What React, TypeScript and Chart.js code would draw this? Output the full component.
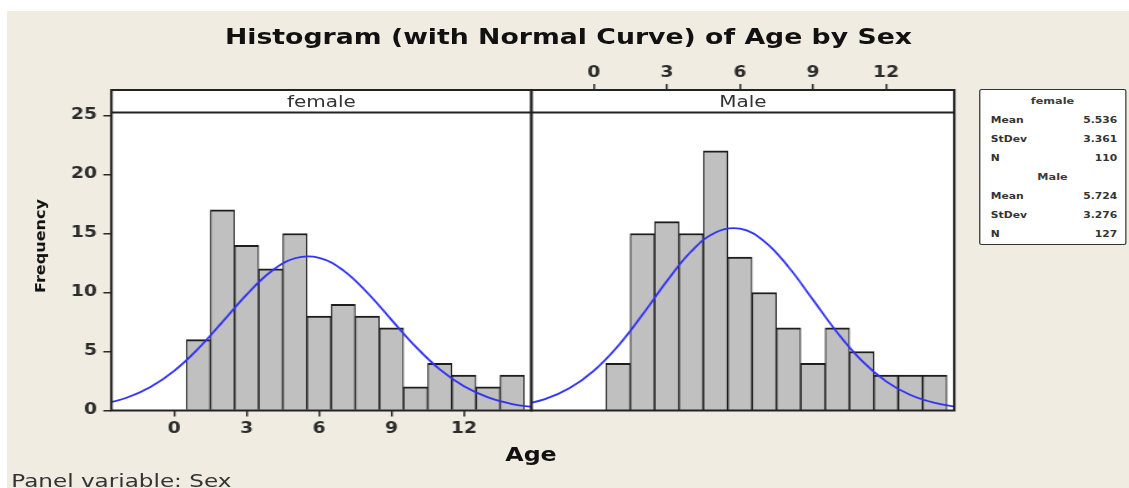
import { useEffect, useRef } from 'react';
import { Chart, registerables } from 'chart.js';

Chart.register(...registerables);

// ---------------- data ----------------
const ageBins = [1, 2, 3, 4, 5, 6, 7, 8, 9, 10, 11, 12, 13, 14];
const femaleCounts = [6, 17, 14, 12, 15, 8, 9, 8, 7, 2, 4, 3, 2, 3];
const maleCounts = [4, 15, 16, 15, 22, 13, 10, 7, 4, 7, 5, 3, 3, 3];
const curveAges = [-3, -2, -1, 0, 1, 2, 3, 4, 5, 6, 7, 8, 9, 10, 11, 12, 13, 14, 15];
const femaleCurve = [0.52, 1.06, 1.97, 3.36, 5.25, 7.51, 9.82, 11.76, 12.9, 12.94, 11.88, 9.98, 7.68, 5.41, 3.48, 2.05, 1.11, 0.55, 0.25];
const maleCurve = [0.45, 0.96, 1.88, 3.36, 5.47, 8.11, 10.95, 13.47, 15.09, 15.41, 14.34, 12.15, 9.38, 6.6, 4.23, 2.47, 1.31, 0.64, 0.28];
const xTicks = [0, 3, 6, 9, 12];
const yTicks = [0, 5, 10, 15, 20, 25];
const panelNames = ['female', 'Male'];
const statNames = ['Mean', 'StDev', 'N'];
const femaleStats = ['5.536', '3.361', '110'];
const maleStats = ['5.724', '3.276', '127'];

// ---------------- layout (unscaled units; container stretched horizontally) ----------------
const W = 904;
const H = 488;
const SX = 1129 / W;
const PANEL_TOP = 90;
const PANEL_BOTTOM = 410.5;
const STRIP_Y = 112.5;
const F_LEFT = 89.2;
const DIV_X = 425.6;
const M_RIGHT = 764.1;
const AXIS_H = 40;
const Y_MAX = 27.16;
const BEIGE = '#f0ece2';
const CURVE = 'rgb(50,50,245)';

const tickFont = { family: 'DejaVu Sans', size: 15, weight: 'bold' as const };

const framePlugin = {
  id: 'panelFrame',
  beforeDraw(chart: any) {
    const { ctx, chartArea: a } = chart;
    ctx.save();
    ctx.fillStyle = '#ffffff';
    ctx.fillRect(a.left, a.top, a.right - a.left, a.bottom - a.top);
    ctx.restore();
  },
  afterDatasetsDraw(chart: any) {
    const { ctx, chartArea: a } = chart;
    ctx.save();
    ctx.strokeStyle = '#222';
    ctx.lineWidth = 2;
    ctx.beginPath();
    ctx.moveTo(a.left, STRIP_Y);
    ctx.lineTo(a.right, STRIP_Y);
    ctx.stroke();
    ctx.strokeRect(a.left, a.top, a.right - a.left, a.bottom - a.top);
    ctx.restore();
  },
};

function xScale(position: 'top' | 'bottom', min: number, max: number) {
  return {
    type: 'linear' as const,
    position,
    min,
    max,
    offset: false,
    afterBuildTicks: (s: any) => {
      s.ticks = xTicks.map((v) => ({ value: v }));
    },
    afterFit: (s: any) => {
      s.height = AXIS_H;
    },
    grid: { drawOnChartArea: false, drawTicks: true, tickLength: 6, color: '#2a2a2a', lineWidth: 1.5, offset: false },
    border: { display: false },
    ticks: { font: tickFont, color: '#2b2b2b', padding: position === 'top' ? 2 : 3.5, autoSkip: false, maxRotation: 0 },
  };
}

function yScale(display: boolean) {
  return {
    type: 'linear' as const,
    display,
    min: 0,
    max: Y_MAX,
    afterBuildTicks: (s: any) => {
      s.ticks = yTicks.map((v) => ({ value: v }));
    },
    afterFit: (s: any) => {
      s.width = display ? F_LEFT : 0;
    },
    grid: { drawOnChartArea: false, drawTicks: true, tickLength: 6.5, color: '#2a2a2a', lineWidth: 1.5 },
    border: { display: false },
    ticks: { font: tickFont, color: '#2b2b2b', padding: 5 },
  };
}

function buildPanel(canvas: HTMLCanvasElement, isFemale: boolean) {
  const counts = isFemale ? femaleCounts : maleCounts;
  const curve = isFemale ? femaleCurve : maleCurve;
  return new Chart(canvas, {
    type: 'bar',
    data: {
      datasets: [
        {
          type: 'line',
          label: (isFemale ? panelNames[0] : panelNames[1]) + ' normal',
          data: curveAges.map((a, i) => ({ x: a, y: curve[i] })),
          borderColor: CURVE,
          borderWidth: 1.8,
          pointRadius: 0,
          tension: 0.4,
          fill: false,
          order: 1,
        } as any,
        {
          type: 'bar',
          label: isFemale ? panelNames[0] : panelNames[1],
          data: ageBins.map((a, i) => ({ x: a, y: counts[i] })),
          backgroundColor: '#c0c0c0',
          borderColor: '#1e1e1e',
          borderWidth: { top: 2, left: 1.1, right: 1.1, bottom: 0 },
          borderSkipped: 'start',
          categoryPercentage: 1,
          barPercentage: 1,
          order: 2,
        } as any,
      ],
    },
    options: {
      responsive: false,
      animation: false,
      devicePixelRatio: 1,
      events: [],
      layout: {
        padding: isFemale
          ? { left: 0, right: W - DIV_X, top: PANEL_TOP, bottom: H - PANEL_BOTTOM - AXIS_H }
          : { left: DIV_X, right: W - M_RIGHT, top: PANEL_TOP - AXIS_H, bottom: H - PANEL_BOTTOM },
      },
      scales: {
        x: isFemale ? xScale('bottom', -2.6, 14.8) : xScale('top', -2.55, 14.8),
        y: yScale(isFemale),
      } as any,
      plugins: {
        legend: { display: false },
        tooltip: { enabled: false },
      },
    },
    plugins: [framePlugin],
  });
}

const abs = (extra: any) => ({ position: 'absolute' as const, whiteSpace: 'nowrap' as const, lineHeight: 1, margin: 0, ...extra });

const LEG_L = 979 / SX;
const LEG_W = (1126 - 979) / SX;
const LEG_TOP = 89;
const LEG_H = 156;
const rowCenter = (i: number) => 100 + 19 * i;

export default function App() {
  const fRef = useRef<HTMLCanvasElement>(null);
  const mRef = useRef<HTMLCanvasElement>(null);

  useEffect(() => {
    const charts = [buildPanel(fRef.current!, true), buildPanel(mRef.current!, false)];
    return () => charts.forEach((c) => c.destroy());
  }, []);

  const headerFont = '700 9px "DejaVu Sans"';
  const rowFont = '700 8.6px "DejaVu Sans"';

  const legendRows: any[] = [];
  [femaleStats, maleStats].forEach((vals, g) => {
    const base = g * 4;
    legendRows.push(
      <div key={'h' + g} style={abs({ left: LEG_L + LEG_W / 2, top: rowCenter(base) - 4.4, transform: 'translateX(-50%)', font: headerFont, color: '#3a3a3a' })}>
        {panelNames[g]}
      </div>
    );
    statNames.forEach((n, k) => {
      legendRows.push(
        <div key={'n' + g + k} style={abs({ left: LEG_L + 9.5, top: rowCenter(base + 1 + k) - 4.2, font: rowFont, color: '#333' })}>
          {n}
        </div>
      );
      legendRows.push(
        <div key={'v' + g + k} style={abs({ left: LEG_L + LEG_W - 7, top: rowCenter(base + 1 + k) - 4.2, transform: 'translateX(-100%)', font: rowFont, color: '#333' })}>
          {vals[k]}
        </div>
      );
    });
  });

  return (
    <div style={{ position: 'absolute', left: 0, top: 0, width: 1129, height: 488, background: '#ffffff', overflow: 'hidden' }}>
      <div style={{ position: 'absolute', left: 7, top: 11, right: 0, bottom: 0, background: BEIGE }} />
      <div style={{ position: 'absolute', left: 0, top: 0, width: W, height: H, transform: `scaleX(${SX})`, transformOrigin: '0 0' }}>
        <canvas ref={fRef} width={W} height={H} style={{ position: 'absolute', left: 0, top: 0 }} />
        <canvas ref={mRef} width={W} height={H} style={{ position: 'absolute', left: 0, top: 0 }} />

        <div style={abs({ left: 568.5 / SX, top: 23.6, transform: 'translateX(-50%)', font: '700 21.4px "DejaVu Sans"', color: '#111' })}>
          Histogram (with Normal Curve) of Age by Sex
        </div>

        <div style={abs({ left: (F_LEFT + DIV_X) / 2, top: 92.3, transform: 'translateX(-50%)', font: '400 16px "DejaVu Sans"', color: '#333' })}>
          {panelNames[0]}
        </div>
        <div style={abs({ left: (DIV_X + M_RIGHT) / 2, top: 92.3, transform: 'translateX(-50%)', font: '400 16px "DejaVu Sans"', color: '#333' })}>
          {panelNames[1]}
        </div>

        <div style={abs({ left: 33.2, top: 245.5, transform: 'translate(-50%,-50%) rotate(-90deg) scaleX(1.46)', font: '700 11px "DejaVu Sans"', color: '#111' })}>
          Frequency
        </div>

        <div style={abs({ left: 531 / SX, top: 442.8, transform: 'translateX(-50%)', font: '700 19px "DejaVu Sans"', color: '#111' })}>
          Age
        </div>

        <div style={abs({ left: 9, top: 469.8, font: '400 18.5px "DejaVu Sans"', color: '#333' })}>
          Panel variable: Sex
        </div>

        <div style={{ position: 'absolute', left: LEG_L, top: LEG_TOP, width: LEG_W, height: LEG_H, boxSizing: 'border-box', border: '1.5px solid #333', borderRadius: 2, background: '#ffffff' }} />
        {legendRows}
      </div>
    </div>
  );
}
